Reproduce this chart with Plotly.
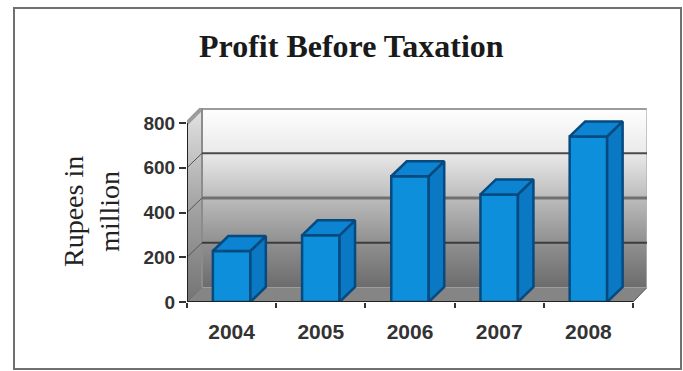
import plotly.graph_objects as go

# Chart data
years = [2004, 2005, 2006, 2007, 2008]
profit = [228, 298, 562, 481, 740]
y_ticks = [0, 200, 400, 600, 800]

# Plot box in pixels and the pseudo-3D depth of the walls and bars
W, H = 683, 371
LEFT, RIGHT, TOP, BOTTOM = 187, 647, 108, 302
PX_PER_YEAR = 89.2
PX_PER_UNIT = 179 / 800
WALL_DX, WALL_DY = 15 / PX_PER_YEAR, 14.5 / PX_PER_UNIT
BAR_DX, BAR_DY = 15.5 / PX_PER_YEAR, 15 / PX_PER_UNIT
BAR_W = 0.42

x0 = years[0] - 0.5
x1 = years[-1] + 0.5
x_range = [x0, x0 + (RIGHT - LEFT) / PX_PER_YEAR]
y_range = [0, (BOTTOM - TOP) / PX_PER_UNIT]
y_top = y_ticks[-1]

FRONT, SIDE, CAP, EDGE = "#0e8fdc", "#0a78c2", "#0c84d2", "#064a80"
WALL_SCALE = [[0, "#6c6c6c"], [0.25, "#909090"], [0.5, "#bcbcbc"],
              [0.75, "#eaeaea"], [1, "#ffffff"]]
SIDE_SCALE = [[0, "#747474"], [0.5, "#a4a4a4"], [1, "#e4e4e4"]]

fig = go.Figure()


def poly(xs, ys, axes=("x", "y"), **kw):
    fig.add_trace(go.Scatter(x=xs, y=ys, mode="lines", xaxis=axes[0], yaxis=axes[1],
                             hoverinfo="skip", showlegend=False, **kw))


# Back wall, left wall and floor
wall_l = x0 + WALL_DX
poly([wall_l, x_range[1], x_range[1], wall_l, wall_l],
     [WALL_DY, WALL_DY, y_range[1], y_range[1], WALL_DY],
     fill="toself", line=dict(width=0),
     fillgradient=dict(type="vertical", colorscale=WALL_SCALE))
poly([x0, wall_l, wall_l, x0, x0], [0, WALL_DY, y_range[1], y_top, 0],
     fill="toself", line=dict(width=0),
     fillgradient=dict(type="vertical", colorscale=SIDE_SCALE))
poly([x0, wall_l, x_range[1], x1, x0], [0, WALL_DY, WALL_DY, 0, 0],
     fill="toself", line=dict(color="#858585", width=0), fillcolor="#858585")

# Wall frame
poly([x0, wall_l, x_range[1]], [y_top, y_range[1], y_range[1]],
     line=dict(color="#9c9c9c", width=4))
poly([x_range[1], x_range[1]], [WALL_DY, y_range[1]], line=dict(color="#b4b4b4", width=1.5))
poly([wall_l, wall_l], [WALL_DY, y_range[1]], line=dict(color="#8c8c8c", width=2))

# Gridlines run along the left wall and then across the back wall
grid_style = {200: ("#3c3c3c", 2), 400: ("#707070", 3), 600: ("#4a4a4a", 2)}
for v, (colour, width) in grid_style.items():
    poly([x0, wall_l], [v, v + WALL_DY], line=dict(color="#555555", width=1))
    poly([wall_l, x_range[1]], [v + WALL_DY, v + WALL_DY], line=dict(color=colour, width=width))
poly([x0, wall_l], [0, WALL_DY], line=dict(color="#6a6a6a", width=1))
poly([x1, x_range[1]], [0, WALL_DY], line=dict(color="#555555", width=1))

# Front faces of the bars, on an overlaid axis pair so they sit above the grid
fig.add_trace(go.Bar(x=years, y=profit, width=BAR_W, xaxis="x2", yaxis="y2",
                     marker=dict(color=FRONT, line=dict(color=EDGE, width=2.5)),
                     hoverinfo="skip", showlegend=False))

# Side and top faces of the bars
for yr, val in zip(years, profit):
    l, r = yr - BAR_W / 2, yr + BAR_W / 2
    poly([r, r + BAR_DX, r + BAR_DX, r, r], [0, BAR_DY, val + BAR_DY, val, 0], axes=("x2", "y2"),
         fill="toself", fillcolor=SIDE, line=dict(color=EDGE, width=2.5))
    poly([l, r, r + BAR_DX, l + BAR_DX, l], [val, val, val + BAR_DY, val + BAR_DY, val], axes=("x2", "y2"),
         fill="toself", fillcolor=CAP, line=dict(color=EDGE, width=2.5))

# Front axis lines
poly([x0, x0], [0, y_top], axes=("x2", "y2"), line=dict(color="#222222", width=2))
poly([x0, x1], [0, 0], axes=("x2", "y2"), line=dict(color="#222222", width=2))

span_x = RIGHT - LEFT
span_y = BOTTOM - TOP

fig.update_layout(
    width=W, height=H, autosize=False,
    margin=dict(l=LEFT, r=W - RIGHT, t=TOP, b=H - BOTTOM),
    paper_bgcolor="white", plot_bgcolor="white",
    showlegend=False,
    xaxis=dict(range=x_range, showgrid=False, zeroline=False, showline=False,
               tickmode="array", tickvals=years, ticktext=[str(y) for y in years],
               ticks="", tickfont=dict(family="Liberation Sans", size=21, color="#333333", weight="bold"),
               ticklabelstandoff=15,
               minor=dict(ticks="outside", ticklen=5, tickwidth=2, tickcolor="#333333",
                          tickmode="array",
                          tickvals=[y + 0.5 for y in years] + [x0])),
    yaxis=dict(range=y_range, showgrid=False, zeroline=False, showline=False,
               tickmode="array", tickvals=y_ticks, ticks="outside", ticklen=7,
               tickwidth=2, tickcolor="#333333",
               tickfont=dict(family="Liberation Sans", size=19, color="#333333", weight="bold")),
    xaxis2=dict(range=x_range, overlaying="x", visible=False),
    yaxis2=dict(range=y_range, overlaying="y", visible=False),
    shapes=[dict(type="rect", xref="paper", yref="paper",
                 x0=(14 - LEFT) / span_x, x1=(681 - LEFT) / span_x,
                 y0=(BOTTOM - 369) / span_y, y1=(BOTTOM - 8) / span_y,
                 line=dict(color="#707070", width=2), fillcolor="rgba(0,0,0,0)")],
    annotations=[
        dict(text="<b>Profit Before Taxation</b>", xref="paper", yref="paper",
             x=(351 - LEFT) / span_x, y=(BOTTOM - 46) / span_y, showarrow=False,
             xanchor="center", yanchor="middle",
             font=dict(family="Liberation Serif", size=32, color="#1a1a1a")),
        dict(text="Rupees in<br>million", xref="paper", yref="paper",
             x=(91 - LEFT) / span_x, y=(BOTTOM - 212) / span_y, showarrow=False,
             textangle=-90, xanchor="center", yanchor="middle",
             font=dict(family="Liberation Serif", size=28, color="#222222")),
    ],
)

fig.write_html("out.html")
